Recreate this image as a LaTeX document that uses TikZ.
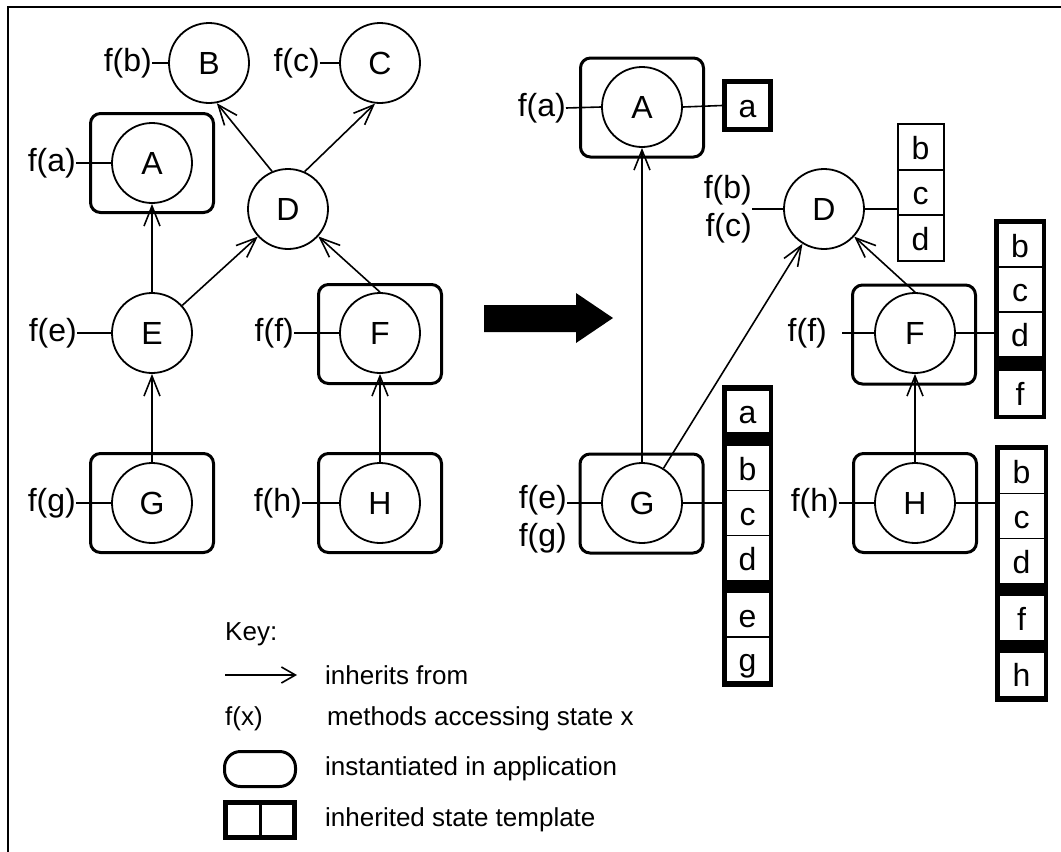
\documentclass[tikz,border=0pt]{standalone}
\usepackage{fontspec}
\setmainfont{Liberation Sans}
\usetikzlibrary{arrows.meta}
\begin{document}
\begin{tikzpicture}[x=1pt,y=-1pt,
  lbl/.style={font=\fontsize{32}{38}\selectfont, inner sep=0pt, align=right},
  keytxt/.style={font=\fontsize{26}{30}\selectfont, inner sep=0pt, anchor=west},
  cls/.style={circle, draw, line width=1.8pt, minimum size=80pt, inner sep=0pt, font=\fontsize{32}{38}\selectfont},
  inst/.style={draw, line width=3pt, rounded corners=10pt, minimum width=123pt, minimum height=99pt, inner sep=0pt},
  inh/.style={line width=1.6pt, -{Straight Barb[length=20pt,width=16pt,line width=1.6pt]}},
  acc/.style={line width=1.6pt},
  cell/.style={draw, line width=1.6pt, minimum height=45pt, inner sep=0pt, text height=24pt, text depth=0pt, font=\fontsize{32}{38}\selectfont},
  tmpl/.style={draw, line width=4.5pt, inner sep=0pt},
  band/.style={fill=black}
]
\useasboundingbox (0,0) rectangle (1061,852);
% frame
\draw[line width=2.2pt] (1061,7) -- (8,7) -- (8,852);

% ---------------- left diagram ----------------
\node[inst] (Abox) at (152,163) {};
\node[inst] (Fbox) at (380,334) {};
\node[inst] (Gbox) at (152,503) {};
\node[inst] (Hbox) at (380,503) {};

\node[cls] (B) at (209,63) {B};
\node[cls] (C) at (380,63) {C};
\node[cls] (A) at (152,163) {A};
\node[cls] (D) at (288,209) {D};
\node[cls] (E) at (152,333) {E};
\node[cls] (F) at (380,333) {F};
\node[cls] (G) at (152,503) {G};
\node[cls] (H) at (380,503) {H};

\node[lbl, anchor=east] (fb) at (152,63) {f(b)};
\node[lbl, anchor=east] (fc) at (320,63) {f(c)};
\node[lbl, anchor=east] (fa) at (76,163) {f(a)};
\node[lbl, anchor=east] (fe) at (77,333) {f(e)};
\node[lbl, anchor=east] (ff) at (294,333) {f(f)};
\node[lbl, anchor=east] (fg) at (76,503) {f(g)};
\node[lbl, anchor=east] (fh) at (302,503) {f(h)};

\draw[acc] (fb.east) -- (B.west);
\draw[acc] (fc.east) -- (C.west);
\draw[acc] (fa.east) -- (A.west);
\draw[acc] (fe.east) -- (E.west);
\draw[acc] (ff.east) -- (F.west);
\draw[acc] (fg.east) -- (G.west);
\draw[acc] (fh.east) -- (H.west);

\draw[inh] (D.113) -- (B.-79);
\draw[inh] (D.66) -- (C.-97);
\draw[inh] (E) -- (A);
\draw[inh] (E) -- (D);
\draw[inh] (F.north) -- (D);
\draw[inh] (G) -- (E);
\draw[inh] (H) -- (F);

% big arrow
\fill (484,305) -- (576,305) -- (576,293) -- (613,318) -- (576,343) -- (576,332) -- (484,332) -- cycle;

% ---------------- right diagram ----------------
\node[inst] (A2box) at (642,107.5) {};
\node[inst] (F2box) at (914,334.5) {};
\node[inst] (G2box) at (641.5,503.5) {};
\node[inst] (H2box) at (915,503) {};

\node[cls] (A2) at (642,107) {A};
\node[cls] (D2) at (824,209) {D};
\node[cls] (F2) at (915,333) {F};
\node[cls] (G2) at (642,503) {G};
\node[cls] (H2) at (915,503) {H};

\node[lbl, anchor=east] (fa2) at (566,108) {f(a)};
\node[lbl, anchor=east] (fbc2) at (752,209) {f(b)\\f(c)};
\node[lbl, anchor=east] (ff2) at (827,333) {f(f)};
\coordinate (ff2s) at (842,333);
\node[lbl, anchor=east] (feg2) at (567,519) {f(e)\\f(g)};
\node[lbl, anchor=east] (fh2) at (839,503) {f(h)};

\draw[acc] (fa2.east) -- (A2.west);
\draw[acc] (fbc2.east) -- (D2.west);
\draw[acc] (ff2s) -- (F2.west);
\draw[acc] (feg2.east |- G2.west) -- (G2.west);
\draw[acc] (fh2.east) -- (H2.west);

\draw[inh] (G2) -- (A2);
\draw[inh] (G2) -- (D2);
\draw[inh] (F2.north) -- (D2);
\draw[inh] (H2) -- (F2);

% state of A
\node[draw, line width=5pt, minimum width=46pt, minimum height=48pt, inner sep=0pt,
      text height=24pt, text depth=0pt, font=\fontsize{32}{38}\selectfont] (sa) at (747.5,105.5) {a};
\draw[acc] (A2.east) -- (sa.west);

% state of D (thin)
\node[cell, line width=2pt, minimum width=46pt, minimum height=45.5pt] (db) at (920.5,147) {b};
\node[cell, line width=2pt, minimum width=46pt, minimum height=45.5pt] (dc) at (920.5,192.5) {c};
\node[cell, line width=2pt, minimum width=46pt, minimum height=45.5pt] (dd) at (920.5,238) {d};
\draw[acc] (D2.east) -- (D2.east -| dc.west);

% state of F
\node[cell, minimum width=47.5pt] (fsb) at (1020,245) {b};
\node[cell, minimum width=47.5pt] (fsc) at (1020,289.5) {c};
\node[cell, minimum width=47.5pt] (fsd) at (1020,334.5) {d};
\fill[band] (996,357) rectangle (1044,371);
\node[cell, minimum width=47.5pt] (fsf) at (1020,393) {f};
\node[tmpl, minimum width=47.5pt, minimum height=195.5pt] (fstack) at (1020,319) {};
\draw[acc] (F2.east) -- (F2.east -| fstack.west);

% state of G
\node[cell, minimum width=46.5pt, minimum height=43pt] (gsa) at (747.5,411.5) {a};
\fill[band] (724,433) rectangle (771,446);
\node[cell, minimum width=46.5pt] (gsb) at (747.5,468) {b};
\node[cell, minimum width=46.5pt] (gsc) at (747.5,513) {c};
\node[cell, minimum width=46.5pt] (gsd) at (747.5,558) {d};
\fill[band] (724,580) rectangle (771,593);
\node[cell, minimum width=46.5pt] (gse) at (747.5,615) {e};
\node[cell, minimum width=46.5pt] (gsg) at (747.5,659.5) {g};
\node[tmpl, minimum width=46.5pt, minimum height=297.5pt] (gstack) at (747.5,536) {};
\draw[acc] (G2.east) -- (G2.east -| gstack.west);

% state of H
\node[cell, minimum width=48.5pt] (hsb) at (1021.5,471) {b};
\node[cell, minimum width=48.5pt] (hsc) at (1021.5,516) {c};
\node[cell, minimum width=48.5pt] (hsd) at (1021.5,561) {d};
\fill[band] (997,583) rectangle (1046,596);
\node[cell, minimum width=48.5pt] (hsf) at (1021.5,618) {f};
\fill[band] (997,640) rectangle (1046,652);
\node[cell, minimum width=48.5pt] (hsh) at (1021.5,674.5) {h};
\node[tmpl, minimum width=48.5pt, minimum height=252.5pt] (hstack) at (1021.5,573.5) {};
\draw[acc] (H2.east) -- (H2.east -| hstack.west);

% ---------------- key ----------------
\node[keytxt] (key) at (225,634) {Key:};
\coordinate (k1) at (225,675);
\coordinate (k2) at (297,675);
\draw[line width=1.6pt, -{Straight Barb[length=14pt,width=16pt,line width=1.6pt]}] (k1) -- (k2);
\node[keytxt] (kt1) at (325,675) {inherits from};
\node[keytxt] (kfx) at (225,719) {f(x)};
\node[keytxt] (kt2) at (327,719) {methods accessing state x};
\node[draw, line width=3pt, rounded corners=16pt, minimum width=71pt, minimum height=35pt, inner sep=0pt] (kinst) at (260,769) {};
\node[keytxt] (kt3) at (325,769) {instantiated in application};
\node[draw, line width=5pt, minimum width=69pt, minimum height=35pt, inner sep=0pt] (ktmpl) at (260,820) {};
\draw[line width=3pt] (ktmpl.north) -- (ktmpl.south);
\node[keytxt] (kt4) at (325,820) {inherited state template};
\end{tikzpicture}
\end{document}
